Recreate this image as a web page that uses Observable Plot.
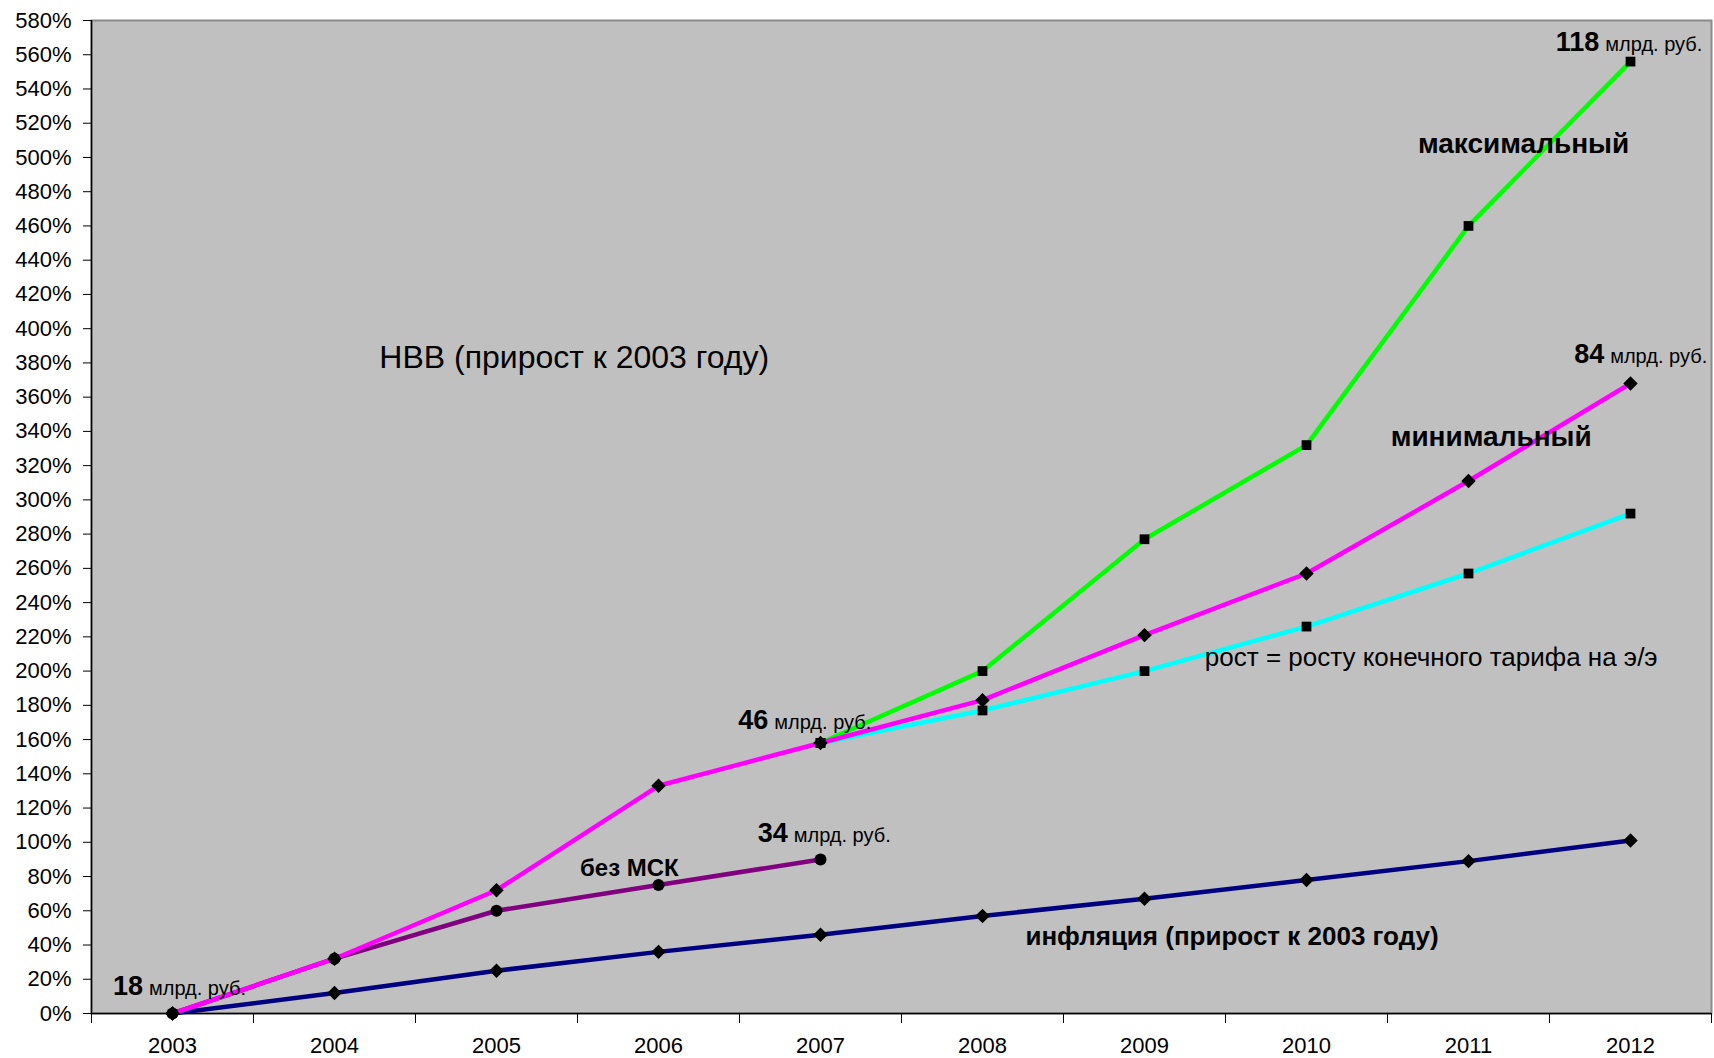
<!DOCTYPE html>
<html>
<head>
<meta charset="utf-8">
<script src="https://cdn.jsdelivr.net/npm/d3@7"></script>
<script src="https://cdn.jsdelivr.net/npm/@observablehq/plot@0.6"></script>
<style>
  html, body { margin: 0; padding: 0; background: #ffffff; }
  #chart svg { display: block; }
</style>
</head>
<body>
<div id="chart"></div>
<script>
// ---- Data ----
const years = [2003, 2004, 2005, 2006, 2007, 2008, 2009, 2010, 2011, 2012];
const yTicks = [0, 20, 40, 60, 80, 100, 120, 140, 160, 180, 200, 220, 240, 260, 280, 300, 320, 340, 360, 380, 400, 420, 440, 460, 480, 500, 520, 540, 560, 580];
const minimalSeries   = [0, 32, 72, 133, 158, 183, 221, 257, 311, 368];
const maximalSeries   = [null, null, null, null, 158, 200, 277, 332, 460, 556];
const tariffSeries    = [null, null, null, null, 158, 177, 200, 226, 257, 292];
const noMSKSeries     = [0, 32, 60, 75, 90, null, null, null, null, null];
const inflationSeries = [0, 12, 25, 36, 46, 57, 67, 78, 89, 101];

// annotations: year-position, value-position, text
const captionTexts = [
  {x: 2005.48, y: 383, text: "НВВ (прирост к 2003 году)", size: 32, weight: "normal"},
  {x: 2011.34, y: 508, text: "максимальный", size: 28, weight: "bold"},
  {x: 2011.14, y: 337, text: "минимальный", size: 28, weight: "bold"},
  {x: 2010.77, y: 208, text: "рост = росту конечного тарифа на э/э", size: 26, weight: "normal"},
  {x: 2009.54, y: 45,  text: "инфляция (прирост к 2003 году)", size: 26, weight: "bold"},
  {x: 2005.82, y: 85,  text: "без МСК", size: 24, weight: "bold"}
];
const amountNumbers = ["18", "46", "34", "84", "118"];
const amountX = [2002.83, 2006.69, 2006.81, 2011.85, 2011.82];
const amountY = [16, 171, 105, 385, 567];
const amountUnit = "млрд. руб.";

// ---- Build tables ----
function toRows(vals) {
  return years.map((yr, i) => ({year: yr, value: vals[i]})).filter(d => d.value != null);
}
const inflation = toRows(inflationSeries);
const noMSK = toRows(noMSKSeries);
const tariff = toRows(tariffSeries);
const maximal = toRows(maximalSeries);
const minimal = toRows(minimalSeries);
const amounts = amountNumbers.map((n, i) => ({num: n, x: amountX[i], y: amountY[i]}));
const bandEdges = d3.range(years[0] - 0.5, years[years.length - 1] + 1, 1);

const font = "'Liberation Sans', Arial, sans-serif";

const chart = Plot.plot({
  width: 1714,
  height: 1058,
  marginLeft: 91,
  marginRight: 3,
  marginTop: 20,
  marginBottom: 45,
  style: {fontFamily: font, background: "#ffffff", color: "#000"},
  x: {domain: [years[0] - 0.5, years[years.length - 1] + 0.5]},
  y: {domain: [0, 580]},
  marks: [
    Plot.frame({fill: "#c0c0c0", stroke: "#8a8a8a", strokeWidth: 2}),
    Plot.ruleX([years[0] - 0.5], {stroke: "#000", strokeWidth: 1.5}),
    Plot.ruleY([0], {stroke: "#000", strokeWidth: 1.5}),
    Plot.axisY({ticks: yTicks, tickFormat: d => d + "%", tickSize: 8, tickPadding: 12, fontSize: 22, label: null}),
    Plot.axisX({ticks: bandEdges, tickFormat: () => "", tickSize: 10, label: null}),
    Plot.axisX({ticks: years, tickFormat: d => String(d), tickSize: 0, tickPadding: 24, fontSize: 22, label: null}),

    // lines
    Plot.line(inflation, {x: "year", y: "value", stroke: "#000080", strokeWidth: 4.5}),
    Plot.line(noMSK, {x: "year", y: "value", stroke: "#800080", strokeWidth: 4.5}),
    Plot.line(tariff, {x: "year", y: "value", stroke: "#00ffff", strokeWidth: 4.5}),
    Plot.line(maximal, {x: "year", y: "value", stroke: "#00ff00", strokeWidth: 4.5}),
    Plot.line(minimal, {x: "year", y: "value", stroke: "#ff00ff", strokeWidth: 4.5}),

    // markers
    Plot.dot(inflation, {x: "year", y: "value", symbol: "diamond2", r: 6.5, fill: "#000", stroke: "none"}),
    Plot.dot(noMSK, {x: "year", y: "value", symbol: "circle", r: 6, fill: "#000", stroke: "none"}),
    Plot.dot(tariff, {x: "year", y: "value", symbol: "square", r: 5.5, fill: "#000", stroke: "none"}),
    Plot.dot(maximal, {x: "year", y: "value", symbol: "square", r: 5.5, fill: "#000", stroke: "none"}),
    Plot.dot(minimal, {x: "year", y: "value", symbol: "diamond2", r: 6.5, fill: "#000", stroke: "none"}),

    // captions
    ...captionTexts.map(c => Plot.text([c], {x: "x", y: "y", text: "text", fontSize: c.size, fontWeight: c.weight, fill: "#000", textAnchor: "middle"})),

    // amount labels
    Plot.text(amounts, {x: "x", y: "y", text: "num", fontSize: 27, fontWeight: "bold", fill: "#000", textAnchor: "end", dx: -2}),
    Plot.text(amounts, {x: "x", y: "y", text: () => amountUnit, fontSize: 20, fill: "#000", textAnchor: "start", dx: 4, dy: 2})
  ]
});
document.getElementById("chart").appendChild(chart);
</script>
</body>
</html>
